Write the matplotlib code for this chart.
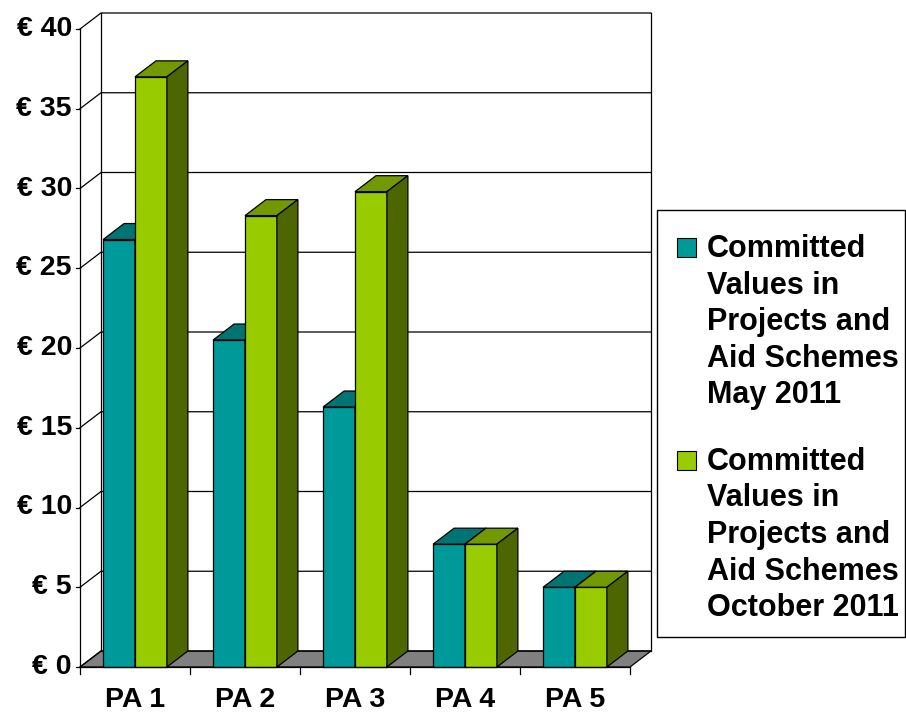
import numpy as np
import matplotlib.pyplot as plt
from matplotlib.patches import Polygon, Rectangle

plt.rcParams['font.family'] = ['Liberation Sans', 'DejaVu Sans']

# data (million euro)
categories = ['PA 1', 'PA 2', 'PA 3', 'PA 4', 'PA 5']
may_2011 = [26.8, 20.5, 16.3, 7.7, 5.0]
oct_2011 = [37.0, 28.3, 29.8, 7.7, 5.0]
yticks = [0, 5, 10, 15, 20, 25, 30, 35, 40]
ytick_labels = ['€ ' + str(v) for v in yticks]
legend_labels = ['Committed\nValues in\nProjects and\nAid Schemes\nMay 2011',
                 'Committed\nValues in\nProjects and\nAid Schemes\nOctober 2011']

### --- figure and scales --- ###
W, H = 906, 713
fig = plt.figure(figsize=(W / 100, H / 100), dpi=100)
ax = fig.add_axes([0, 0, 1, 1])
# one category = 110 px, one euro = 15.95 px, origin at pixel (80, 667)
cx, cy = 110, 15.95
ax.set_xlim(-80 / cx, (W - 80) / cx)
ax.set_ylim(-(H - 667) / cy, 667 / cy)
ax.axis('off')

dx, dy = 21 / cx, 16 / cy   # 3d depth
n = len(categories)
ymax = yticks[-1]
lw = 0.9

### --- walls and floor --- ###
ax.add_patch(Polygon([(0, 0), (n, 0), (n + dx, dy), (dx, dy)], closed=True,
                     fc='#808080', ec='black', lw=lw, zorder=1))
for v, lab in zip(yticks, ytick_labels):
    ax.plot([0, dx, n + dx], [v, v + dy, v + dy], color='black', lw=lw, zorder=2)
    ax.plot([-4 / cx, 0], [v, v], color='black', lw=lw, zorder=2)
    ax.text(-8 / cx, v, lab, ha='right', va='center',
            fontsize=20.5, fontweight='bold')
ax.plot([dx, dx], [dy, ymax + dy], color='black', lw=lw, zorder=2)
ax.plot([n + dx, n + dx], [dy, ymax + dy], color='black', lw=lw, zorder=2)
ax.plot([0, 0], [0, ymax], color='black', lw=lw, zorder=2)

# x axis
ax.plot([0, n], [0, 0], color='black', lw=lw, zorder=5)
for i in range(n + 1):
    ax.plot([i, i], [0, -7 / cy], color='black', lw=lw, zorder=5)
for i, c in enumerate(categories):
    ax.text(i + 0.5, -33 / cy, c, ha='center', va='center',
            fontsize=20.5, fontweight='bold')

### --- bars --- ###
w = 0.29
def bar3d(x0, h, front, top, side):
    x1 = x0 + w
    ax.add_patch(Polygon([(x0, 0), (x1, 0), (x1, h), (x0, h)],
                         fc=front, ec='black', lw=lw, zorder=3))
    ax.add_patch(Polygon([(x0, h), (x1, h), (x1 + dx, h + dy), (x0 + dx, h + dy)],
                         fc=top, ec='black', lw=lw, zorder=3))
    ax.add_patch(Polygon([(x1, 0), (x1 + dx, dy), (x1 + dx, h + dy), (x1, h)],
                         fc=side, ec='black', lw=lw, zorder=3))

for i in range(n):
    bar3d(i + 0.5 - w, may_2011[i], '#009999', '#007373', '#004d4d')
    bar3d(i + 0.5, oct_2011[i], '#99cc00', '#739900', '#4d6600')

### --- legend --- ###
def fx(px):
    return px / W
def fy(py):
    return 1 - py / H

fig.add_artist(Rectangle((fx(657), fy(637)), (905 - 657) / W, (637 - 210) / H,
                         transform=fig.transFigure, fill=False, ec='black', lw=1))
colors = ['#009999', '#99cc00']
for j, lab in enumerate(legend_labels):
    base = 257 + 213 * j
    fig.add_artist(Rectangle((fx(677), fy(base)), 19 / W, 19 / H,
                             transform=fig.transFigure, fc=colors[j], ec='black', lw=0.8))
    for k, line in enumerate(lab.split('\n')):
        fig.text(fx(707), fy(base + 36.5 * k), line, va='baseline', ha='left',
                 fontsize=22, fontweight='bold')

fig.savefig('out.png', dpi=100, facecolor='white')
